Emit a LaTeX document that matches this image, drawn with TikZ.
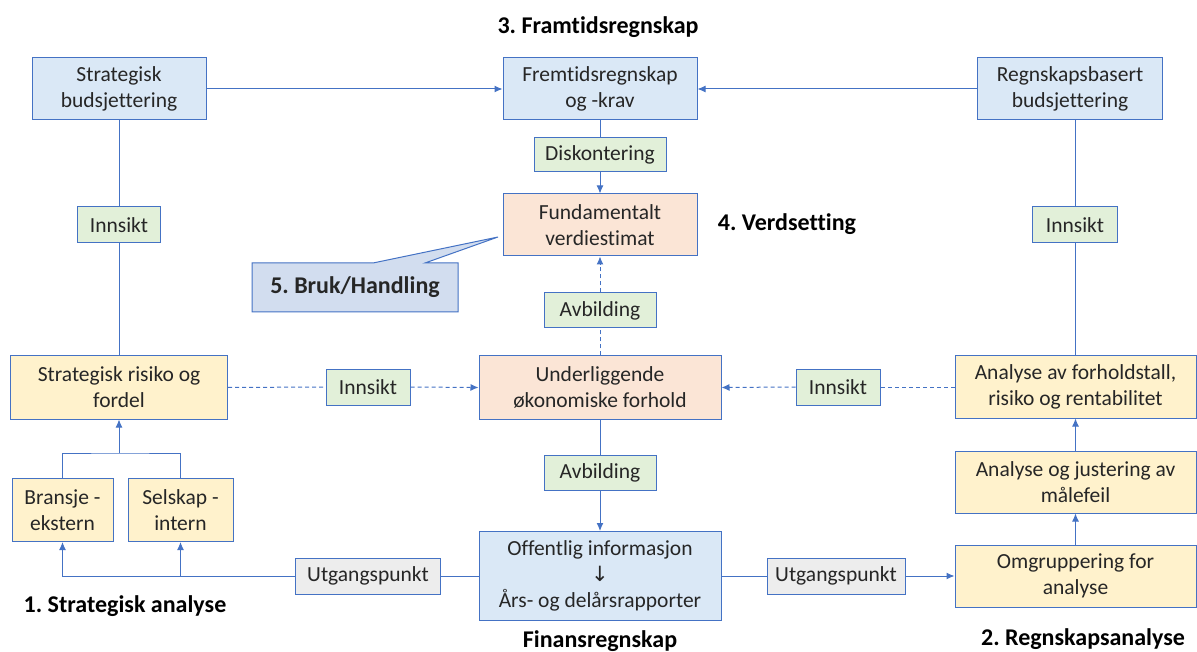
\documentclass[tikz,border=0pt]{standalone}
\usepackage{fontspec}
\setmainfont{Carlito}[Ligatures=NoCommon]
\newfontfamily\symfont{DejaVu Sans}
\usetikzlibrary{arrows.meta}
\definecolor{edge}{HTML}{4472C4}
\definecolor{ink}{HTML}{262626}
\definecolor{blueF}{HTML}{DAE8F6}
\definecolor{greenF}{HTML}{E2F0D9}
\definecolor{peachF}{HTML}{FBE5D6}
\definecolor{yellowF}{HTML}{FFF2CC}
\definecolor{greyF}{HTML}{EDEDED}
\definecolor{calloutF}{HTML}{D2DDEF}
\frenchspacing
\begin{document}
\begin{tikzpicture}[x=1pt,y=-1pt,
  box/.style={draw=edge, line width=1pt, text=ink, align=center,
    font=\fontsize{21.5}{26}\selectfont, inner sep=0pt},
  bluebox/.style={box, fill=blueF},
  greenbox/.style={box, fill=greenF},
  peachbox/.style={box, fill=peachF},
  yellowbox/.style={box, fill=yellowF},
  greybox/.style={box, fill=greyF},
  head/.style={text=black, font=\fontsize{24}{28}\selectfont\bfseries, inner sep=0pt},
  link/.style={draw=edge, line width=1pt},
  arr/.style={link, -{Latex[length=8pt,width=7pt]}},
  dlink/.style={link, dash pattern=on 4pt off 3pt},
  darr/.style={dlink, -{Latex[length=8pt,width=7pt]}}]
\useasboundingbox (0,0) rectangle (1197,652);

% top row
\node[bluebox, minimum width=174, minimum height=62] (sb) at (119,89) {Strategisk\\budsjettering};
\node[bluebox, minimum width=194, minimum height=62] (fr) at (600,89) {Fremtidsregnskap\\og -krav};
\node[bluebox, minimum width=185, minimum height=62] (rb) at (1070,89) {Regnskapsbasert\\budsjettering};
\node[greenbox, minimum width=132, minimum height=34] (dk) at (600,155) {Diskontering};
\node[peachbox, minimum width=194, minimum height=62] (fu) at (600,225) {Fundamentalt\\verdiestimat};
\node[greenbox, minimum width=83, minimum height=36] (iL) at (119,225) {Innsikt};
\node[greenbox, minimum width=85, minimum height=36] (iR) at (1075,225) {Innsikt};
\node[greenbox, minimum width=112, minimum height=35] (av1) at (600,310.5) {Avbilding};

% middle row
\node[yellowbox, minimum width=217, minimum height=63] (sr) at (119,387.5) {Strategisk risiko og\\fordel};
\node[greenbox, minimum width=84, minimum height=36] (iML) at (368,387) {Innsikt};
\node[peachbox, minimum width=242, minimum height=63] (ud) at (600,387.5) {Underliggende\\økonomiske forhold};
\node[greenbox, minimum width=84, minimum height=36] (iMR) at (838,387) {Innsikt};
\node[yellowbox, minimum width=241, minimum height=62] (af) at (1075.5,387) {Analyse av forholdstall,\\risiko og rentabilitet};

% lower rows
\node[yellowbox, minimum width=241, minimum height=62] (aj) at (1075.5,482) {Analyse og justering av\\målefeil};
\node[yellowbox, minimum width=241, minimum height=62] (om) at (1075.5,576) {Omgruppering for\\analyse};
\node[greenbox, minimum width=112, minimum height=35] (av2) at (600,472.5) {Avbilding};
\node[bluebox, minimum width=242, minimum height=89] (of) at (600,576) {Offentlig informasjon\\{\symfont\fontsize{21}{26}\selectfont ↓}\\Års- og delårsrapporter};
\node[greybox, minimum width=145, minimum height=36] (uL) at (368,576) {Utgangspunkt};
\node[greybox, minimum width=138, minimum height=36] (uR) at (836,576) {Utgangspunkt};
\node[yellowbox, minimum width=101, minimum height=63] (br) at (62.5,510) {Bransje -\\ekstern};
\node[yellowbox, minimum width=105, minimum height=63] (se) at (180.5,510) {Selskap -\\intern};

% headings
\node[head] (h3) at (598,27) {3. Framtidsregnskap};
\node[head] (h4) at (787,224) {4. Verdsetting};
\node[head] (h1) at (125,606) {1. Strategisk analyse};
\node[head] (hf) at (600,641) {Finansregnskap};
\node[head] (h2) at (1083,639) {2. Regnskapsanalyse};

% callout
\coordinate (tip) at (498,237);
\draw[draw=edge, line width=1pt, fill=calloutF]
  (252,263) -- (373,263) -- (tip) -- (425,263) -- (458,263) -- (458,312) -- (252,312) -- cycle;
\node[head, text=ink] (bruk) at (355,287.5) {5. Bruk/Handling};

% connectors: top
\draw[arr] (sb.east) -- (fr.west);
\draw[arr] (rb.west) -- (fr.east);
\draw[link] (fr.south) -- (dk.north);
\draw[arr] (dk.south) -- (fu.north);
\draw[link] (sb.south) -- (iL.north);
\draw[link] (iL.south) -- (sr.north);
\draw[link] (iR.north |- rb.south) -- (iR.north);
\draw[link] (iR.south) -- (iR.south |- af.north);

% connectors: middle
\draw[dlink] (ud.north) -- (av1.south);
\draw[darr] (av1.north) -- (fu.south);
\draw[dlink] (sr.east) -- (iML.west);
\draw[darr] (iML.east) -- (ud.west);
\draw[dlink] (af.west |- iMR.east) -- (iMR.east);
\draw[darr] (iMR.west) -- (ud.east);
\draw[link] (ud.south) -- (av2.north);
\draw[arr] (av2.south) -- (of.north);

% connectors: strategic analysis
\coordinate (join) at (119,453);
\draw[link] (br.north) |- (join) -| (se.north);
\draw[arr] (join) -- (sr.south);
\draw[link] (of.west) -- (uL.east);
\draw[arr] (uL.west) -| (br.south);
\draw[arr] (se.south |- uL.west) -- (se.south);

% connectors: accounting analysis
\draw[link] (of.east) -- (uR.west);
\draw[arr] (uR.east) -- (om.west);
\draw[arr] (om.north) -- (aj.south);
\draw[arr] (aj.north) -- (af.south);
\end{tikzpicture}
\end{document}
